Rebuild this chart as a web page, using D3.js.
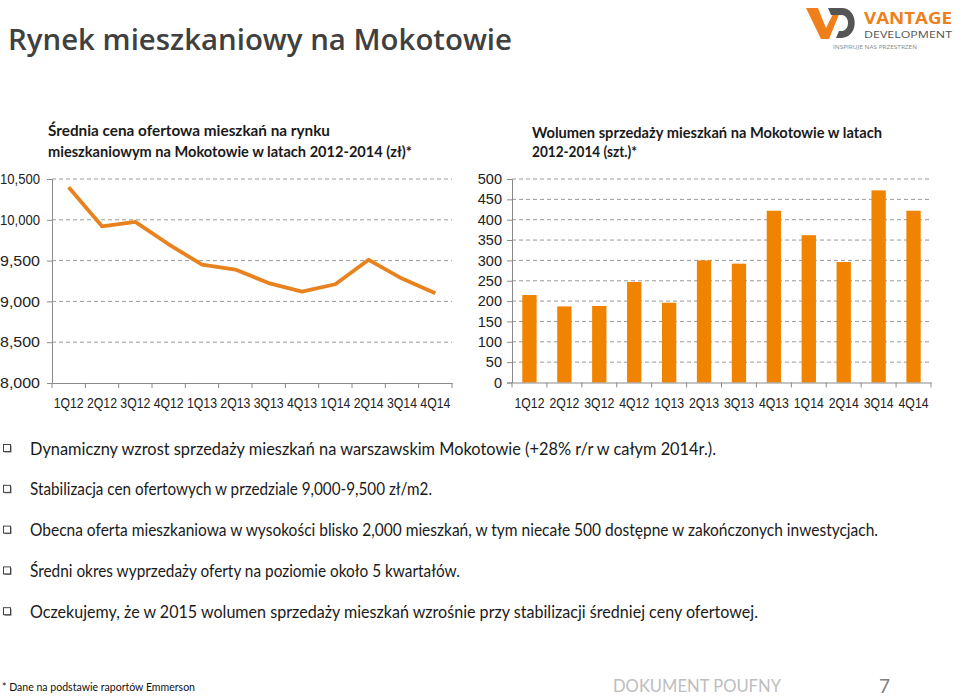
<!DOCTYPE html>
<html><head><meta charset="utf-8">
<script src="https://cdn.jsdelivr.net/npm/d3@7/dist/d3.min.js"></script>
<style>
body{margin:0;background:#fff;}
svg{display:block;font-family:Lato,"Open Sans",sans-serif;}
</style></head>
<body><svg id="c" width="960" height="696"></svg>
<script>
// ---- data ----
const categories = ["1Q12","2Q12","3Q12","4Q12","1Q13","2Q13","3Q13","4Q13","1Q14","2Q14","3Q14","4Q14"];
const priceValues = [10400,9920,9975,9700,9450,9390,9225,9120,9210,9510,9280,9100];
const volumeValues = [215,187,188,247,196,300,292,422,362,296,472,422];
const priceTicks = [8000,8500,9000,9500,10000,10500];
const volumeTicks = [0,50,100,150,200,250,300,350,400,450,500];
const pageTitle = "Rynek mieszkaniowy na Mokotowie";
const priceTitle = ["Średnia cena ofertowa mieszkań na rynku","mieszkaniowym na Mokotowie w latach 2012-2014 (zł)*"];
const volumeTitle = ["Wolumen sprzedaży mieszkań na Mokotowie w latach","2012-2014 (szt.)*"];
const bullets = [
 "Dynamiczny wzrost sprzedaży mieszkań na warszawskim Mokotowie (+28% r/r w całym 2014r.).",
 "Stabilizacja cen ofertowych w przedziale 9,000-9,500 zł/m2.",
 "Obecna oferta mieszkaniowa w wysokości blisko 2,000 mieszkań, w tym niecałe 500 dostępne w zakończonych inwestycjach.",
 "Średni okres wyprzedaży oferty na poziomie około 5 kwartałów.",
 "Oczekujemy, że w 2015 wolumen sprzedaży mieszkań wzrośnie przy stabilizacji średniej ceny ofertowej."
];
const footnote = "* Dane na podstawie raportów Emmerson";
const confidential = "DOKUMENT POUFNY";
const pageNo = "7";

const svg = d3.select("#c");
const ORANGE_LINE = "#E8821E", ORANGE_BAR = "#F08300";
const AXIS = "#8a8a8a", GRID = "#9a9a9a";

function fitW(sel, w){ sel.attr("textLength", w).attr("lengthAdjust","spacingAndGlyphs"); return sel; }

// ---- page title ----
fitW(svg.append("text").attr("x",8).attr("y",50).attr("font-size",29).attr("font-weight",600)
  .attr("font-family","'Open Sans',Lato,sans-serif").attr("fill","#404040").text(pageTitle), 504);

// ---- logo ----
const logo = svg.append("g");
logo.append("path").attr("d","M806,8 L818,8 L826,28 L834,12 L840,12 L829,39 L821,39 Z").attr("fill","#EE7F1A");
logo.append("path").attr("d","M828,8 L842,8 C858,8 860,36 842,38 L836,38 L839,31 L842,31 C850,30 850,16 842,15 L831,15 Z").attr("fill","#555");
logo.append("text").attr("x",864).attr("y",24).attr("font-size",15.5).attr("font-weight",700)
  .attr("fill","#EE7F1A").attr("font-family","'Open Sans',sans-serif").attr("textLength",88).attr("lengthAdjust","spacingAndGlyphs").text("VANTAGE");
logo.append("text").attr("x",864).attr("y",38).attr("font-size",9.5)
  .attr("fill","#555").attr("font-family","'Open Sans',sans-serif").attr("textLength",88).attr("lengthAdjust","spacingAndGlyphs").text("DEVELOPMENT");
logo.append("text").attr("x",833).attr("y",48.5).attr("font-size",5)
  .attr("fill","#888").attr("font-family","'Open Sans',sans-serif").attr("textLength",84).attr("lengthAdjust","spacingAndGlyphs").text("INSPIRUJE NAS PRZESTRZEŃ");

// ---- chart titles ----
function title(lines, x, ys, ws){
  lines.forEach((t,i)=>fitW(svg.append("text").attr("x",x).attr("y",ys[i]).attr("font-size",15)
     .attr("font-weight",700).attr("fill","#1a1a1a").text(t), ws[i]));
}
title(priceTitle, 48, [136,157], [282,364]);
title(volumeTitle, 532, [138,157], [350,105]);

// ---- left: line chart ----
const xL = d3.scaleBand().domain(categories).range([52,452]).padding(0);
const yL = d3.scaleLinear().domain([8000,10500]).range([383,179]);
const gL = svg.append("g");
gL.selectAll("line.grid").data(priceTicks.filter(t=>t>8000)).join("line")
  .attr("x1",52).attr("x2",452).attr("y1",d=>yL(d)).attr("y2",d=>yL(d))
  .attr("stroke",GRID).attr("stroke-dasharray","4,3").attr("stroke-width",1);
const axL = gL.append("g").attr("transform","translate(52,0)")
  .call(d3.axisLeft(yL).tickValues(priceTicks).tickFormat(d3.format(",")).tickSize(5).tickPadding(7));
axL.selectAll("text").attr("font-size",14.5).attr("fill","#222").each(function(){fitW(d3.select(this),40);});
const axLb = gL.append("g").attr("transform","translate(0,383)")
  .call(d3.axisBottom(xL).tickSize(0).tickPadding(15));
axLb.selectAll("text").attr("font-size",14.5).attr("fill","#222").each(function(){fitW(d3.select(this),30);});
gL.selectAll("line.xt").data(categories.map(c=>xL(c)).concat([xL.range()[1]])).join("line")
  .attr("x1",d=>d).attr("x2",d=>d).attr("y1",383).attr("y2",388).attr("stroke",AXIS);
[axL,axLb].forEach(a=>{a.selectAll("path,line").attr("stroke",AXIS);});
gL.append("path").datum(priceValues)
  .attr("d", d3.line().x((d,i)=>xL(categories[i])+xL.bandwidth()/2).y(d=>yL(d)))
  .attr("fill","none").attr("stroke",ORANGE_LINE).attr("stroke-width",3.8).attr("stroke-linejoin","round");

// ---- right: bar chart ----
const xR = d3.scaleBand().domain(categories).range([512,931]).paddingInner(0.59).paddingOuter(0.295);
const xRb = d3.scaleBand().domain(categories).range([512,931]).padding(0);
const yR = d3.scaleLinear().domain([0,500]).range([382.5,179]);
const gR = svg.append("g");
gR.selectAll("line.grid").data(volumeTicks.filter(t=>t>0)).join("line")
  .attr("x1",512).attr("x2",931).attr("y1",d=>yR(d)).attr("y2",d=>yR(d))
  .attr("stroke",GRID).attr("stroke-dasharray","4,3").attr("stroke-width",1);
gR.selectAll("rect").data(volumeValues).join("rect")
  .attr("x",(d,i)=>xR(categories[i])).attr("width",xR.bandwidth())
  .attr("y",d=>yR(d)).attr("height",d=>yR(0)-yR(d)).attr("fill",ORANGE_BAR);
const axR = gR.append("g").attr("transform","translate(512,0)")
  .call(d3.axisLeft(yR).tickValues(volumeTicks).tickSize(5).tickPadding(5));
axR.selectAll("text").attr("font-size",14.5).attr("fill","#222");
const axRb = gR.append("g").attr("transform","translate(0,382.5)")
  .call(d3.axisBottom(xRb).tickSize(0).tickPadding(15));
axRb.selectAll("text").attr("font-size",14.5).attr("fill","#222").each(function(){fitW(d3.select(this),30);});
gR.selectAll("line.xt").data(categories.map(c=>xRb(c)).concat([xRb.range()[1]])).join("line")
  .attr("x1",d=>d).attr("x2",d=>d).attr("y1",382.5).attr("y2",387.5).attr("stroke",AXIS);
[axR,axRb].forEach(a=>{a.selectAll("path,line").attr("stroke",AXIS);});

// ---- bullets ----
const bW = [686, 402, 848, 430, 728];
const bG = svg.append("g");
bullets.forEach((t,i)=>{
  const y = 449 + i*40.8;
  bG.append("rect").attr("x",4.5).attr("y",y-3.5).attr("width",7).attr("height",7).attr("fill","#777");
  bG.append("rect").attr("x",3.5).attr("y",y-4.5).attr("width",7).attr("height",7).attr("fill","#fff").attr("stroke","#333").attr("stroke-width",0.9);
  fitW(bG.append("text").attr("x",30).attr("y",y+5.5).attr("font-size",16.5).attr("fill","#1a1a1a").text(t), bW[i]);
});

// ---- footer ----
fitW(svg.append("text").attr("x",2).attr("y",691).attr("font-size",11).attr("fill","#111").text(footnote), 193);
fitW(svg.append("text").attr("x",613).attr("y",692).attr("font-size",17).attr("fill","#bdbdbd").text(confidential), 168);
svg.append("text").attr("x",879).attr("y",693).attr("font-size",19).attr("fill","#7f7f7f").text(pageNo);
</script></body></html>
